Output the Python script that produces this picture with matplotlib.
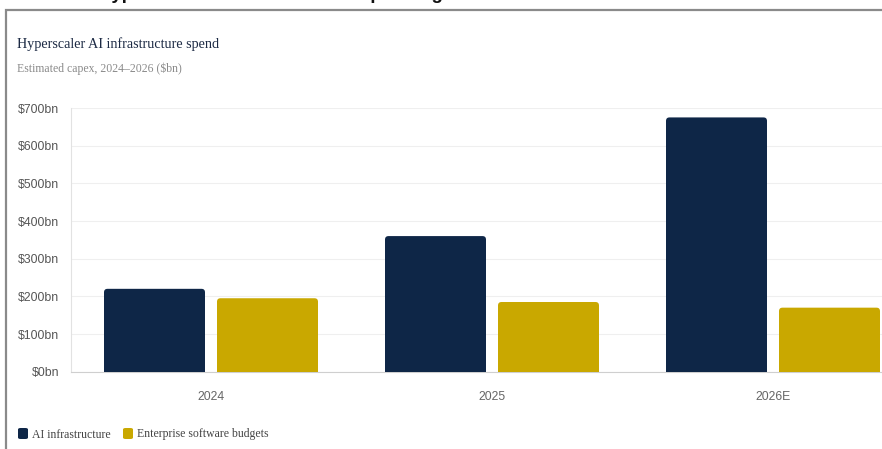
import matplotlib.pyplot as plt
from matplotlib.patches import FancyBboxPatch, Rectangle
from matplotlib.ticker import FuncFormatter

# data
years = ["2024", "2025", "2026E"]
ai_infra = [220, 360, 675]
ent_software = [195, 185, 170]
series_names = ["AI infrastructure", "Enterprise software budgets"]

NAVY = "#0e2647"
GOLD = "#c9a800"
SERIF = ["Liberation Serif", "DejaVu Serif"]
SANS = ["Liberation Sans", "DejaVu Sans"]

W, H = 882, 449
fig = plt.figure(figsize=(W / 100, H / 100), dpi=100)

# outer frame of the card, runs off the right and bottom edges
fig.patches.append(Rectangle((6 / W, -0.05), 1.2, 1 - 9.5 / H + 0.05,
                             transform=fig.transFigure, fill=False,
                             edgecolor="#8a8a8a", lw=1.6))

# header, clipped by top edge (as in the screenshot)
fig.text(22 / W, 1 + 1 / H, "Chart 1: Hyperscaler AI infrastructure spending",
         fontsize=13.5, fontweight="bold", family=SANS,
         color="#111111", va="baseline")

fig.text(17 / W, 1 - 48 / H, "Hyperscaler AI infrastructure spend",
         fontsize=10.2, family=SERIF, color="#1c2a44", va="baseline")
fig.text(17 / W, 1 - 72 / H, "Estimated capex, 2024\u20132026 ($bn)",
         fontsize=8.5, family=SERIF, color="#8a8a8a", va="baseline")

# axes extends past right edge of figure
ax = fig.add_axes([70.5 / W, (H - 371.7) / H, 843 / W, 263.7 / H])
ax.set_xlim(-0.5, 2.5)
ax.set_ylim(0, 700)

bw = 101 / 281
off = 113 / 281 / 2
x = list(range(len(years)))

px_x = 3 / 843
px_y = 700 / 263.7
for vals, col, sgn, name in [(ai_infra, NAVY, -1, series_names[0]),
                             (ent_software, GOLD, 1, series_names[1])]:
    bars = ax.bar([i + sgn * off for i in x], vals, width=bw, color=col, label=name)
    for b in bars:
        b.set_visible(False)
        # rounded top; extend below zero so bottom corners are clipped
        p = FancyBboxPatch((b.get_x(), -20), b.get_width(), b.get_height() + 20,
                           boxstyle="round,pad=0,rounding_size=%f" % (3.5 * px_x),
                           mutation_aspect=px_y / px_x, facecolor=col,
                           edgecolor="none", zorder=3)
        ax.add_patch(p)

ax.set_yticks(range(0, 701, 100))
ax.yaxis.set_major_formatter(FuncFormatter(lambda v, _: "$%dbn" % v))
ax.set_xticks(x)
ax.set_xticklabels(years)
ax.grid(axis="y", color="#efefef", lw=0.8, zorder=0)
ax.set_axisbelow(True)
for s in ["top", "right"]:
    ax.spines[s].set_visible(False)
ax.spines["left"].set_color("#e2e2e2")
ax.spines["bottom"].set_color("#cfcfcf")
ax.tick_params(axis="y", length=0, pad=8, labelsize=8.8, labelcolor="#555555")
ax.tick_params(axis="x", length=0, pad=14, labelsize=8.8, labelcolor="#666666")
for t in ax.get_xticklabels() + ax.get_yticklabels():
    t.set_family(SANS)

# legend
for lx, col, name in [(18, NAVY, series_names[0]), (123, GOLD, series_names[1])]:
    fig.patches.append(FancyBboxPatch((lx / W, 1 - 439 / H), 10 / W, 11 / H,
                                      boxstyle="round,pad=0,rounding_size=0.003",
                                      transform=fig.transFigure,
                                      facecolor=col, edgecolor="none"))
    fig.text((lx + 14) / W, 1 - 437.5 / H, name, fontsize=8.5, family=SERIF,
             color="#444444", va="baseline")

fig.savefig("out.png", dpi=100)
